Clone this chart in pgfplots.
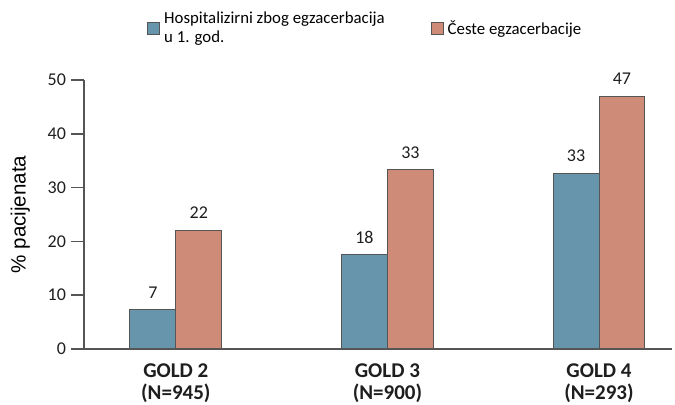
\documentclass[border=0pt]{standalone}
\usepackage{pgfplots}
\pgfplotsset{compat=1.18}
\usepackage{fontspec}
\setmainfont{Carlito}
\newfontfamily\arialf{Liberation Sans}
\definecolor{bblue}{RGB}{103,150,172}
\definecolor{bred}{RGB}{206,139,120}
\definecolor{axgray}{RGB}{85,85,85}
\definecolor{txtgray}{RGB}{30,30,30}
\begin{document}
\begin{tikzpicture}
\begin{axis}[
  scale only axis, width=294pt, height=134.5pt,
  xmin=-0.434, xmax=2.345, ymin=0, ymax=50,
  axis x line=bottom, axis y line=left,
  axis line style={-, draw=axgray, line width=0.8pt},
  ytick={0,10,20,30,40,50},
  xtick={0,1,2},
  xticklabels={{GOLD 2\\(N=945)},{GOLD 3\\(N=900)},{GOLD 4\\(N=293)}},
  x tick label style={font=\bfseries\fontsize{10.5}{10.8}\selectfont, align=center, text=txtgray, yshift=2.5pt},
  y tick label style={font=\fontsize{9}{10}\selectfont, text=txtgray, xshift=1pt},
  /pgf/number format/assume math mode=true,
  major x tick style={draw=none},
  tick align=outside, major tick length=6.5pt,
  y tick style={draw=axgray, line width=0.8pt},
  ylabel={\% pacijenata},
  ylabel style={font=\arialf\fontsize{10.3}{12}\selectfont, text=black, yshift=2pt},
  ybar, bar width=0.217,
  nodes near coords,
  point meta=explicit,
  nodes near coords style={font=\fontsize{9}{10}\selectfont, text=txtgray, yshift=2pt},
  legend columns=2,
  legend style={at={(0.48,1.19)}, anchor=center, draw=none, fill=none,
    font=\fontsize{8.4}{9.5}\selectfont,
    cells={anchor=west, align=left},
    /tikz/every even column/.append style={column sep=21pt}},
  legend image code/.code={\draw[#1, draw=axgray, line width=0.5pt] (0pt,-3pt) rectangle (6pt,3pt);},
  clip=false,
]
\addplot[fill=bblue, draw=axgray, line width=0.5pt, bar shift=-0.1085]
  coordinates {(0,7.4) [7] (1,17.6) [18] (2,32.7) [33]};
\addlegendentry{Hospitalizirni zbog egzacerbacija\\u 1. god.}
\addplot[fill=bred, draw=axgray, line width=0.5pt, bar shift=0.1085]
  coordinates {(0,22.1) [22] (1,33.3) [33] (2,47.0) [47]};
\addlegendentry{Česte egzacerbacije}
\coordinate (bl) at (rel axis cs:0,0);
\coordinate (tr) at (rel axis cs:1,1);
\end{axis}
\pgfresetboundingbox
\path[use as bounding box] ([shift={(-42pt,-28pt)}]bl) rectangle ([shift={(1.5pt,40pt)}]tr);
\end{tikzpicture}
\end{document}
